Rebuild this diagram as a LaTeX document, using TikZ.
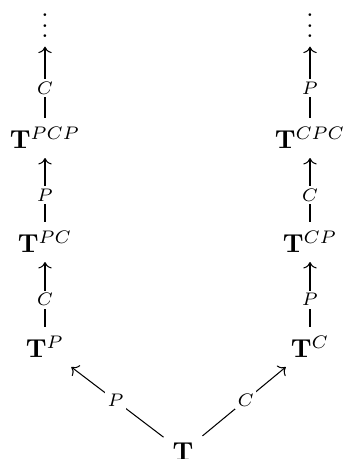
\documentclass[tikz,border=0pt]{standalone}
\usetikzlibrary{arrows.meta}
\begin{document}
\begin{tikzpicture}[x=0.385pt,y=-0.385pt,
  obj/.style={inner sep=3pt, outer sep=0.5pt},
  arr/.style={-{Computer Modern Rightarrow}, line width=0.4pt},
  lab/.style={fill=white, inner sep=1pt, font=\scriptsize}]
\useasboundingbox (0,0) rectangle (342,459);
\node[obj] (T) at (183,452) {$\mathbf{T}$};
\node[obj] (TP) at (45,347) {$\mathbf{T}^{P}$};
\node[obj] (TPC) at (45,242) {$\mathbf{T}^{PC}$};
\node[obj] (TPCP) at (45,138) {$\mathbf{T}^{PCP}$};
\node[obj] (LD) at (45,18) {$\vdots$};
\node[obj] (TC) at (310,347) {$\mathbf{T}^{C}$};
\node[obj] (TCP) at (310,242) {$\mathbf{T}^{CP}$};
\node[obj] (TCPC) at (310,138) {$\mathbf{T}^{CPC}$};
\node[obj] (RD) at (310,18) {$\vdots$};
\draw[arr] (T) -- node[lab, pos=0.52] {$P$} (TP);
\draw[arr] (T) -- node[lab, pos=0.52] {$C$} (TC);
\draw[arr] (TP) -- node[lab, pos=0.42] {$C$} (TPC);
\draw[arr] (TPC) -- node[lab, pos=0.42] {$P$} (TPCP);
\draw[arr] (TPCP) -- node[lab, pos=0.42] {$C$} (LD);
\draw[arr] (TC) -- node[lab, pos=0.42] {$P$} (TCP);
\draw[arr] (TCP) -- node[lab, pos=0.42] {$C$} (TCPC);
\draw[arr] (TCPC) -- node[lab, pos=0.42] {$P$} (RD);
\end{tikzpicture}
\end{document}
